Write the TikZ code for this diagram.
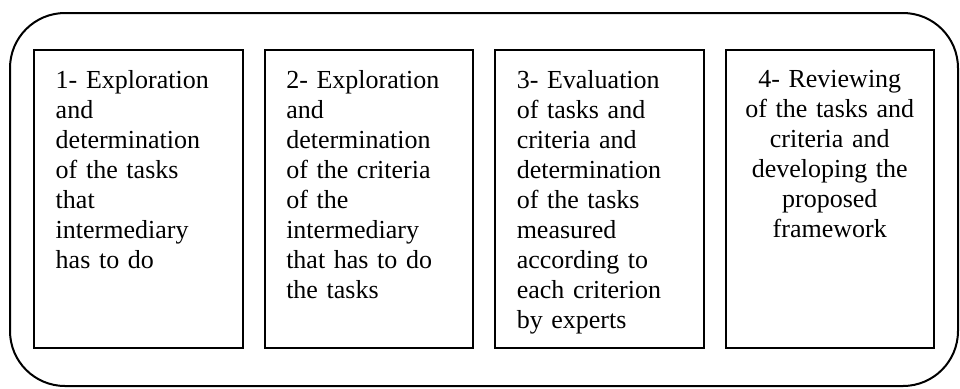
\documentclass[tikz,border=0pt]{standalone}
\usepackage{fontspec}
\setmainfont{Liberation Serif}
\usetikzlibrary{positioning}

\tikzset{every picture/.style={line width=0.75pt}}
\tikzset{
  stagebox/.style={draw, line width=1pt, minimum width=104.25pt, minimum height=149pt, inner sep=0pt, outer sep=0pt, anchor=north west},
  stagetext/.style={inner sep=0pt, font=\fontsize{13}{15}\selectfont, text width=83pt},
}

\begin{document}
\begin{tikzpicture}[x=0.5pt,y=0.5pt,yscale=-1,xscale=1]
\useasboundingbox (0,0) rectangle (960,388);

%Shape: Rounded Rect [id:outer]
\draw [line width=1pt, rounded corners=27.5pt] (10,13) rectangle (958,386);

%Shape: Rectangle
\node [stagebox] (box1) at (34,50) {};
\node [stagebox, right=11pt of box1] (box2) {};
\node [stagebox, right=11pt of box2] (box3) {};
\node [stagebox, right=11pt of box3] (box4) {};

% Text Node
\node [stagetext, anchor=north west, align=left] (txt1) at ([shift={(21,20)}]box1.north west) {1- Exploration\\ and\\ determination\\ of the tasks\\ that\\ intermediary\\ has to do};
% Text Node
\node [stagetext, anchor=north west, align=left] (txt2) at ([shift={(21,20)}]box2.north west) {2- Exploration\\ and\\ determination\\ of the criteria\\ of the\\ intermediary\\ that has to do\\ the tasks};
% Text Node
\node [stagetext, anchor=north west, align=left] (txt3) at ([shift={(21,20)}]box3.north west) {3- Evaluation\\ of tasks and\\ criteria and\\ determination\\ of the tasks\\ measured\\ according to\\ each criterion\\ by experts};
% Text Node
\node [stagetext, text width=94pt, anchor=north, align=center] (txt4) at ([shift={(0,20)}]box4.north) {4- Reviewing\\ of the tasks and\\ criteria and\\ developing the\\ proposed\\ framework};

\end{tikzpicture}
\end{document}
